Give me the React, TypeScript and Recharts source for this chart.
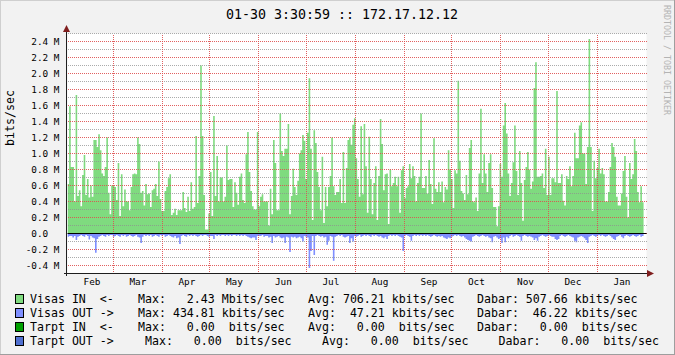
import { Area, CartesianGrid, ComposedChart, ReferenceLine, XAxis, YAxis } from "recharts";

// Visas IN, M bits/sec, read left to right
const inFebMar = [
  0.62, 1.59, 0.83, 0.83, 0.4, 1.73, 0.47, 0.54, 0.34, 0.73,
  0.98, 0.48, 0.68, 0.45, 0.6, 0.46, 1.17, 1.17, 1.08, 1.24,
  1.04, 0.75, 0.72, 0.83, 1.2, 0.51, 0.24, 0.6, 0.6, 0.58,
  0.42, 0.88, 0.22, 0.74, 0.34, 0.55, 0.4, 0.4, 0.29, 0.58,
  0.74, 0.75, 0.74, 1.2, 1.12, 0.51, 0.53, 0.35, 0.62, 0.49,
  0.5, 0.33, 0.54, 0.56, 0.62, 0.47, 0.9, 0.43,
];
const inAprMay = [
  0.28, 0.28, 0.53, 0.58, 0.69, 0.74, 0.23, 0.26, 0.31, 0.23,
  0.29, 0.29, 0.29, 0.52, 0.32, 0.27, 0.46, 0.28, 0.64, 0.31,
  0.33, 1.22, 0.38, 0.72, 2.1, 1.22, 0.48, 0.05, 0.05, 0.25,
  0.77, 0.22, 1.47, 0.47, 0.97, 0.4, 0.7, 0.7, 0.4, 0.46,
  1.1, 0.67, 0.68, 0.68, 0.33, 0.64, 0.51, 0.36, 0.71, 0.75,
  0.42, 0.38, 0.99, 1.27, 0.77, 0.53, 0.34, 0.3, 0.3, 1.27,
];
const inJunJul = [
  0.34, 0.46, 0.49, 0.4, 0.4, 0.4, 0.1, 0.56, 0.24, 1.17,
  0.88, 0.29, 0.29, 1.5, 1.03, 0.97, 1.06, 1.06, 1.37, 0.24,
  0.47, 0.81, 0.58, 0.48, 0.66, 1.0, 1.04, 1.23, 1.16, 0.68,
  1.26, 1.94, 1.06, 0.17, 1.29, 1.13, 0.77, 0.58, 0.29, 0.96,
  0.13, 0.58, 0.34, 0.58, 0.72, 1.2, 0.59, 0.48, 0.52, 0.52,
  0.68, 0.38, 1.02, 0.38, 0.82, 1.17, 1.2, 1.11, 1.36, 1.44,
  0.94,
];
const inAugSep = [
  0.68, 0.46, 1.34, 0.49, 1.37, 0.84, 0.26, 1.21, 0.68, 0.24,
  0.63, 0.84, 0.17, 0.72, 1.43, 1.12, 0.54, 0.74, 0.75, 0.12,
  0.8, 0.59, 0.63, 0.71, 0.59, 0.71, 0.26, 0.79, 0.84, 0.44,
  0.57, 0.59, 0.87, 0.69, 0.84, 0.72, 0.4, 0.63, 0.71, 1.5,
  0.57, 0.57, 0.72, 0.5, 0.92, 0.62, 0.37, 1.19, 0.56, 0.52,
  0.64, 0.52, 0.65, 0.39, 0.58, 0.55, 1.04, 0.8, 0.68, 0.32,
  0.79,
];
const inOctNov = [
  0.75, 1.91, 0.91, 0.53, 0.5, 0.42, 0.73, 0.49, 1.07, 1.17,
  0.4, 0.39, 0.45, 0.28, 0.75, 1.56, 0.63, 0.99, 0.75, 0.52,
  0.88, 0.99, 0.57, 0.33, 0.33, 0.09, 0.34, 0.87, 0.71, 1.35,
  1.63, 1.25, 0.75, 0.47, 0.63, 0.89, 1.35, 0.78, 0.48, 1.03,
  0.63, 0.16, 0.67, 0.83, 1.02, 0.8, 0.56, 0.65, 1.82, 2.14,
  0.71, 0.71, 0.72, 0.75, 0.57, 1.06, 0.48, 0.96, 0.48, 0.69,
];
const inDecJan = [
  0.69, 0.64, 1.78, 0.63, 0.63, 0.74, 0.41, 0.35, 0.72, 0.68,
  0.84, 0.59, 0.72, 1.26, 0.94, 0.94, 1.35, 1.39, 1.0, 1.0,
  0.62, 1.08, 2.43, 1.08, 0.28, 0.91, 0.69, 0.82, 1.06, 0.75,
  0.82, 0.74, 0.4, 0.4, 0.52, 0.83, 1.13, 1.08, 0.96, 0.46,
  0.35, 0.35, 0.5, 0.78, 0.97, 0.46, 0.2, 0.88, 0.68, 0.74,
  1.18, 1.03, 0.52, 0.39, 0.59, 0.39,
];

// Visas OUT, M bits/sec (drawn below zero)
const outFebMar = [
  0.04, 0.03, 0.03, 0.05, 0.03, 0.08, 0.04, 0.03, 0.02, 0.03,
  0.04, 0.02, 0.03, 0.075, 0.03, 0.05, 0.06, 0.24, 0.07, 0.04,
  0.03, 0.02, 0.03, 0.04, 0.02, 0.03, 0.02, 0.02, 0.04, 0.03,
  0.02, 0.03, 0.04, 0.02, 0.03, 0.02, 0.04, 0.03, 0.02, 0.03,
  0.04, 0.03, 0.02, 0.04, 0.05, 0.12, 0.04, 0.02, 0.03, 0.02,
  0.03, 0.02, 0.04, 0.03, 0.02, 0.03, 0.04, 0.02,
];
const outAprMay = [
  0.03, 0.02, 0.04, 0.03, 0.02, 0.03, 0.04, 0.05, 0.03, 0.06,
  0.05, 0.13, 0.03, 0.02, 0.03, 0.04, 0.02, 0.03, 0.02, 0.03,
  0.02, 0.03, 0.04, 0.03, 0.02, 0.03, 0.02, 0.02, 0.03, 0.04,
  0.03, 0.03, 0.07, 0.02, 0.03, 0.02, 0.03, 0.02, 0.02, 0.03,
  0.02, 0.03, 0.02, 0.03, 0.02, 0.02, 0.03, 0.02, 0.03, 0.02,
  0.03, 0.02, 0.03, 0.04, 0.05, 0.06, 0.05, 0.05, 0.08, 0.03,
];
const outJunJul = [
  0.03, 0.03, 0.02, 0.04, 0.03, 0.03, 0.05, 0.04, 0.12, 0.03,
  0.05, 0.04, 0.03, 0.05, 0.06, 0.05, 0.12, 0.04, 0.05, 0.23,
  0.04, 0.05, 0.04, 0.06, 0.05, 0.04, 0.06, 0.1, 0.03, 0.04,
  0.05, 0.43, 0.22, 0.03, 0.27, 0.03, 0.02, 0.03, 0.04, 0.03,
  0.05, 0.04, 0.14, 0.09, 0.03, 0.04, 0.34, 0.04, 0.03, 0.02,
  0.03, 0.02, 0.04, 0.05, 0.04, 0.03, 0.12, 0.06, 0.1, 0.03,
  0.04,
];
const outAugSep = [
  0.03, 0.02, 0.04, 0.03, 0.02, 0.03, 0.02, 0.03, 0.04, 0.02,
  0.03, 0.02, 0.03, 0.04, 0.03, 0.05, 0.06, 0.04, 0.07, 0.03,
  0.02, 0.03, 0.02, 0.03, 0.02, 0.03, 0.04, 0.05, 0.22, 0.03,
  0.02, 0.03, 0.04, 0.09, 0.03, 0.02, 0.03, 0.02, 0.03, 0.02,
  0.03, 0.02, 0.03, 0.02, 0.03, 0.04, 0.03, 0.02, 0.03, 0.04,
  0.03, 0.04, 0.03, 0.05, 0.06, 0.07, 0.05, 0.06, 0.04, 0.03,
  0.02,
];
const outOctNov = [
  0.03, 0.02, 0.03, 0.04, 0.03, 0.05, 0.07, 0.08, 0.09, 0.1,
  0.04, 0.03, 0.02, 0.03, 0.04, 0.03, 0.02, 0.03, 0.04, 0.03,
  0.05, 0.06, 0.11, 0.04, 0.03, 0.05, 0.07, 0.06, 0.12, 0.05,
  0.11, 0.04, 0.06, 0.03, 0.02, 0.04, 0.03, 0.02, 0.03, 0.04,
  0.09, 0.03, 0.02, 0.03, 0.04, 0.03, 0.04, 0.05, 0.08, 0.06,
  0.09, 0.04, 0.03, 0.02, 0.03, 0.04, 0.03, 0.02, 0.03, 0.04,
];
const outDecJan = [
  0.04, 0.07, 0.08, 0.07, 0.03, 0.02, 0.03, 0.04, 0.03, 0.02,
  0.03, 0.04, 0.05, 0.09, 0.11, 0.05, 0.04, 0.03, 0.04, 0.06,
  0.08, 0.12, 0.04, 0.03, 0.02, 0.03, 0.04, 0.03, 0.02, 0.03,
  0.02, 0.03, 0.04, 0.03, 0.02, 0.03, 0.05, 0.07, 0.08, 0.04,
  0.03, 0.02, 0.04, 0.06, 0.03, 0.02, 0.03, 0.04, 0.03, 0.02,
  0.03, 0.04, 0.03, 0.02, 0.04, 0.03,
];

const months = ["Feb", "Mar", "Apr", "May", "Jun", "Jul", "Aug", "Sep", "Oct", "Nov", "Dec", "Jan"];
const monthDays = [29, 31, 30, 31, 30, 31, 31, 30, 31, 30, 31, 31];
const yTicks = [-0.4, -0.2, 0, 0.2, 0.4, 0.6, 0.8, 1.0, 1.2, 1.4, 1.6, 1.8, 2.0, 2.2, 2.4];
const yMinor = [-0.3, -0.1, 0.1, 0.3, 0.5, 0.7, 0.9, 1.1, 1.3, 1.5, 1.7, 1.9, 2.1, 2.3, 2.5];

const legendRows = [
  { color: "#7fdb7f", label: "Visas IN  <-", max: "Max:   2.43 Mbits/sec", avg: "Avg: 706.21 kbits/sec", cur: "Dabar: 507.66 kbits/sec" },
  { color: "#7f8fff", label: "Visas OUT ->", max: "Max: 434.81 kbits/sec", avg: "Avg:  47.21 kbits/sec", cur: "Dabar:  46.22 kbits/sec" },
  { color: "#00a000", label: "Tarpt IN  <-", max: "Max:   0.00  bits/sec", avg: "Avg:   0.00  bits/sec", cur: "Dabar:   0.00  bits/sec" },
  { color: "#5070d0", label: "Tarpt OUT ->", max: "Max:   0.00  bits/sec", avg: "Avg:   0.00  bits/sec", cur: "Dabar:   0.00  bits/sec" },
];

const visasIn = [...inFebMar, ...inAprMay, ...inJunJul, ...inAugSep, ...inOctNov, ...inDecJan];
const visasOut = [...outFebMar, ...outAprMay, ...outJunJul, ...outAugSep, ...outOctNov, ...outDecJan];

// days since Feb 1; last sample at Jan 30 03:30
const YEAR_DAYS = monthDays.reduce((a, b) => a + b, 0);
const END_DAY = YEAR_DAYS - 2 + 3.5 / 24;
const monthStarts = monthDays.map((_, i) => monthDays.slice(0, i).reduce((a, b) => a + b, 0));
const monthMids = monthStarts.map((s) => s + 15.5);

const N = visasIn.length;
const data = visasIn.map((v, i) => ({ t: (i * END_DAY) / N, in: v, out: -visasOut[i] }));
data.push({ t: END_DAY, in: visasIn[N - 1], out: -visasOut[N - 1] });

const MONO = "'DejaVu Sans Mono', monospace";
const MINOR = "rgba(143,143,143,0.75)";
const MAJOR = "rgba(222,79,79,0.9)";

const fmtY = (v: number) => (Math.abs(v) < 1e-9 ? "0.0\u00a0\u00a0" : `${v.toFixed(1)} M`);

const YTick = (props: any) => {
  const { x, y, payload } = props;
  return (
    <text x={x} y={y} textAnchor="end" dominantBaseline="central" fontFamily={MONO} fontSize={9.4} fill="#000">
      {fmtY(payload.value)}
    </text>
  );
};

const XTick = (props: any) => {
  const { x, y, payload } = props;
  return (
    <text x={x} y={y} textAnchor="middle" dominantBaseline="central" fontFamily={MONO} fontSize={9.4} fill="#000">
      {months[monthMids.indexOf(payload.value)] ?? ""}
    </text>
  );
};

// dotted 1px grid lines, start and centre snapped to whole pixels like rrdtool
const dotted = (color: string, vertical: boolean) => (p: any) => {
  if (vertical) {
    const x = Math.floor(p.x1) + 0.5;
    return (
      <line x1={x} x2={x} y1={Math.round(p.y1)} y2={Math.round(p.y2)} stroke={color} strokeDasharray="1 1" />
    );
  }
  const y = Math.floor(p.y1) + 0.5;
  return (
    <line x1={Math.round(p.x1)} x2={Math.round(p.x2)} y1={y} y2={y} stroke={color} strokeDasharray="1 1" />
  );
};
const minorH = dotted(MINOR, false);
const majorH = dotted(MAJOR, false);
const majorV = dotted(MAJOR, true);

export default function App() {
  const pre = { whiteSpace: "pre" as const };
  return (
    <div style={{ position: "relative", width: 675, height: 355, background: "#f2f2f2" }}>
      <style>{"body{margin:0}"}</style>
      <ComposedChart
        width={675}
        height={355}
        data={data}
        margin={{ top: 33.5, right: 28.5, bottom: 0, left: 0 }}
      >
        <CartesianGrid fill="#ffffff" horizontal={false} vertical={false} stroke="none" />
        <XAxis
          type="number"
          dataKey="t"
          domain={[0, YEAR_DAYS]}
          ticks={monthMids}
          axisLine={false}
          tickLine={false}
          tickSize={0}
          tickMargin={8}
          height={81.5}
          allowDataOverflow
          interval={0}
          tick={<XTick />}
        />
        <YAxis
          type="number"
          domain={[-0.5, 2.5]}
          ticks={yTicks}
          axisLine={false}
          tickLine={false}
          tickSize={0}
          tickMargin={8}
          width={67.5}
          interval={0}
          allowDataOverflow
          tick={<YTick />}
        />
        <Area
          type="stepAfter"
          dataKey="in"
          stroke="none"
          fill="#7fdb7f"
          fillOpacity={1}
          dot={false}
          activeDot={false}
          isAnimationActive={false}
        />
        <Area
          type="stepAfter"
          dataKey="out"
          stroke="none"
          fill="#7f8fff"
          fillOpacity={1}
          dot={false}
          activeDot={false}
          isAnimationActive={false}
        />
        {yMinor.map((v) => (
          <ReferenceLine key={`mi${v}`} y={v} stroke={MINOR} shape={minorH} />
        ))}
        {yTicks.map((v) => (
          <ReferenceLine key={`ma${v}`} y={v} stroke={MAJOR} shape={majorH} />
        ))}
        {monthStarts.slice(1).map((d) => (
          <ReferenceLine key={`m${d}`} x={d} stroke={MAJOR} shape={majorV} />
        ))}
        <ReferenceLine y={0} stroke="#000000" strokeWidth={1} />
      </ComposedChart>

      <svg
        width={675}
        height={355}
        style={{ position: "absolute", left: 0, top: 0, pointerEvents: "none" }}
      >
        {/* bevel frame */}
        <rect x={0} y={0} width={675} height={1} fill="#cfcfcf" />
        <rect x={0} y={0} width={1} height={355} fill="#cfcfcf" />
        <rect x={0} y={354} width={675} height={1} fill="#9e9e9e" />
        <rect x={674} y={0} width={1} height={355} fill="#9e9e9e" />

        <text x={342} y={14} textAnchor="middle" dominantBaseline="central" fontFamily={MONO} fontSize={13.3} fill="#000" style={pre}>
          01-30 3:30:59 :: 172.17.12.12
        </text>
        <text
          transform="translate(10,118) rotate(-90)"
          textAnchor="middle"
          dominantBaseline="central"
          fontFamily={MONO}
          fontSize={11.6}
          fill="#000"
        >
          bits/sec
        </text>
        <text
          transform="translate(666.5,60) rotate(90)"
          textAnchor="middle"
          dominantBaseline="central"
          fontFamily={MONO}
          fontSize={8.3}
          fill="#b4b4b4"
          style={pre}
        >
          RRDTOOL / TOBI OETIKER
        </text>

        {/* axes + arrows */}
        <line x1={66.5} y1={28} x2={66.5} y2={276} stroke="#1f1f1f" />
        <line x1={64} y1={273.5} x2={649} y2={273.5} stroke="#1f1f1f" />
        <polygon points="66.5,25 63,32 70,32" fill="#801f1f" />
        <polygon points="654,273.5 647,270 647,277" fill="#801f1f" />

        {legendRows.map((r, i) => {
          const cy = 299 + i * 14;
          const shift = i === 3;
          return (
            <g key={r.label}>
              <rect x={15.5} y={cy - 4.5} width={8} height={9} fill={r.color} stroke="#000" strokeWidth={1} />
              {[
                [30, r.label],
                [shift ? 145 : 138, r.max],
                [shift ? 322 : 308, r.avg],
                [shift ? 498.5 : 477, r.cur],
              ].map(([x, s]) => (
                <text
                  key={String(x)}
                  x={x as number}
                  y={cy}
                  dominantBaseline="central"
                  fontFamily={MONO}
                  fontSize={11.6}
                  fill="#000"
                  style={pre}
                >
                  {s}
                </text>
              ))}
            </g>
          );
        })}
      </svg>
    </div>
  );
}
